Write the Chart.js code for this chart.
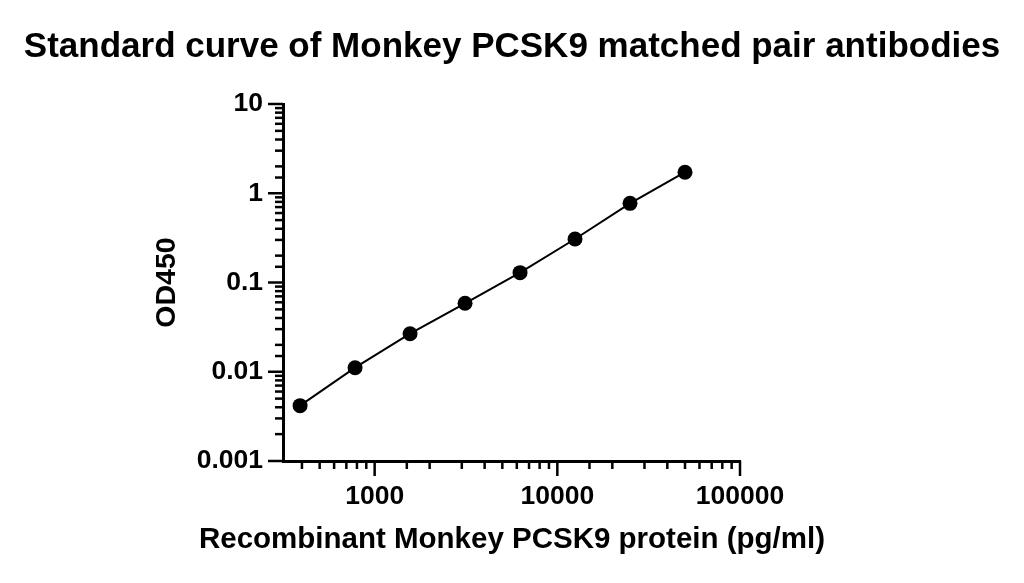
<!DOCTYPE html>
<html>
<head>
<meta charset="utf-8">
<script src="https://cdn.jsdelivr.net/npm/chart.js@4/dist/chart.umd.min.js"></script>
<style>
  html, body { margin: 0; padding: 0; background: #fff; }
  #wrap { width: 1024px; height: 583px; }
</style>
</head>
<body>
<div id="wrap"><canvas id="grafico" width="1024" height="583"></canvas></div>
<script>
// Datos
const concentraciones = [390.625, 781.25, 1562.5, 3125, 6250, 12500, 25000, 50000];
const od450 = [0.00417, 0.0111, 0.0267, 0.0585, 0.129, 0.307, 0.771, 1.72];
const ticksX = [1000, 10000, 100000];
const ticksY = [0.001, 0.01, 0.1, 1, 10];

const fuente = "Arial, 'Liberation Sans', sans-serif";

const puntos = concentraciones.map((x, i) => ({ x: x, y: od450[i] }));

// Marcas de los ejes (mayores largas, menores cortas)
const marcasEjes = {
    id: "marcasEjes",
    afterDraw(chart) {
        const c = chart.ctx;
        const area = chart.chartArea;
        c.save();
        c.strokeStyle = "#000";
        c.lineWidth = 2.5;
        const sx = chart.scales.x;
        sx.ticks.forEach((t) => {
            const mayor = ticksX.includes(t.value);
            const px = sx.getPixelForValue(t.value);
            if (px < area.left + 2) return;
            c.beginPath();
            c.moveTo(px, area.bottom);
            c.lineTo(px, area.bottom + (mayor ? 15 : 8));
            c.stroke();
        });
        const sy = chart.scales.y;
        sy.ticks.forEach((t) => {
            const mayor = ticksY.includes(t.value);
            const py = sy.getPixelForValue(t.value);
            c.beginPath();
            c.moveTo(area.left, py);
            c.lineTo(area.left - (mayor ? 15 : 8), py);
            c.stroke();
        });
        c.restore();
    }
};

const config = {
    type: "scatter",
    data: {
        datasets: [
            {
                data: puntos,
                showLine: true,
                borderColor: "#000",
                borderWidth: 2,
                backgroundColor: "#000",
                pointRadius: 7.5,
                pointHoverRadius: 7.5,
                pointBorderWidth: 0,
            },
        ],
    },
    options: {
        responsive: false,
        animation: false,
        layout: { padding: 0 },
        plugins: {
            legend: { display: false },
            tooltip: { enabled: false },
            title: {
                display: true,
                text: "Standard curve of Monkey PCSK9 matched pair antibodies",
                color: "#000",
                font: { family: fuente, size: 35, weight: "bold", lineHeight: 1.2 },
                padding: { top: 26, bottom: 36 },
            },
            // Título del eje X a lo ancho del lienzo
            subtitle: {
                display: true,
                position: "bottom",
                text: "Recombinant Monkey PCSK9 protein (pg/ml)",
                color: "#000",
                font: { family: fuente, size: 29.5, weight: "bold", lineHeight: 1.2 },
                padding: { top: 10, bottom: 25 },
            },
        },
        scales: {
            x: {
                type: "logarithmic",
                min: 315,
                max: 100000,
                border: { display: true, color: "#000", width: 3 },
                grid: { display: true, drawOnChartArea: false, drawTicks: true, tickLength: 15, tickColor: "rgba(0,0,0,0)" },
                ticks: {
                    autoSkip: false,
                    maxRotation: 0,
                    color: "#000",
                    padding: 5,
                    font: { family: fuente, size: 26.5, weight: "bold" },
                    callback: (v) => (ticksX.includes(v) ? String(v) : ""),
                },
                afterFit: (s) => { s.height = 583 - 461 - 70.4; },
            },
            y: {
                type: "logarithmic",
                min: 0.001,
                max: 10,
                border: { display: true, color: "#000", width: 3 },
                grid: { display: true, drawOnChartArea: false, drawTicks: true, tickLength: 15, tickColor: "rgba(0,0,0,0)" },
                ticks: {
                    autoSkip: false,
                    color: "#000",
                    padding: 5,
                    font: { family: fuente, size: 26.5, weight: "bold" },
                    callback: (v) => (ticksY.includes(v) ? String(v) : ""),
                },
                title: {
                    display: true,
                    text: "OD450",
                    color: "#000",
                    font: { family: fuente, size: 28.5, weight: "bold", lineHeight: 1.2 },
                    padding: { top: 150, bottom: 0 },
                },
                afterFit: (s) => { s.width = 283; },
            },
            // Eje vacío para reservar el margen derecho
            derecha: {
                type: "linear",
                position: "right",
                display: true,
                grid: { display: false },
                border: { display: false },
                ticks: { display: false },
                afterFit: (s) => { s.width = 1024 - 740; },
            },
        },
    },
    plugins: [marcasEjes],
};

new Chart(document.getElementById("grafico").getContext("2d"), config);
</script>
</body>
</html>
